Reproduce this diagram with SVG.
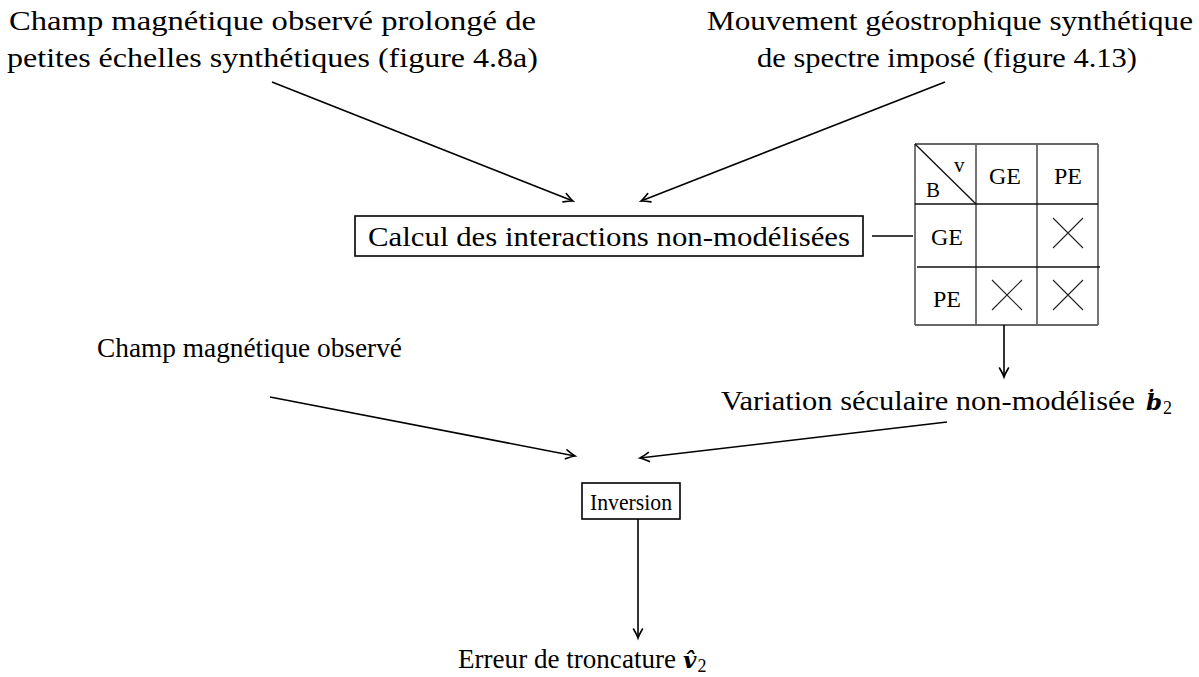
<svg xmlns="http://www.w3.org/2000/svg" width="1199" height="677" viewBox="0 0 1199 677">
<style>
text{font-family:"Liberation Serif","Times New Roman",serif;fill:#000}
.t{font-size:27px}
.tab{font-size:24px}
.sm{font-size:21px}
.m{font-family:"DejaVu Serif",serif;font-weight:bold;font-style:italic;font-size:23px}
.sub{font-size:18px}
.box{fill:none;stroke:#000;stroke-width:1.6}
.edge{fill:none;stroke:#000;stroke-width:1.6}
.grid{stroke:#666;stroke-width:1.8;fill:none}
.gridk{stroke:#111;stroke-width:1.4;fill:none}
.x{stroke:#222;stroke-width:1.1}
</style>
<defs>
<marker id="ah" markerUnits="userSpaceOnUse" markerWidth="20" markerHeight="20" viewBox="-12 -10 20 20" refX="0" refY="0" orient="auto">
<path d="M-9,-4.5 Q-3,-1 0,0 Q-3,1 -9,4.5" fill="none" stroke="#000" stroke-width="1.6" stroke-linecap="round"/>
</marker>
</defs>
<rect width="1199" height="677" fill="#fff"/>
<g id="src1">
<text class="t" x="9" y="30" textLength="527" lengthAdjust="spacingAndGlyphs">Champ magnétique observé prolongé de</text>
<text class="t" x="7" y="67" textLength="531" lengthAdjust="spacingAndGlyphs">petites échelles synthétiques (figure 4.8a)</text>
</g>
<g id="src2">
<text class="t" x="707" y="30" textLength="486" lengthAdjust="spacingAndGlyphs">Mouvement géostrophique synthétique</text>
<text class="t" x="757" y="67" textLength="380" lengthAdjust="spacingAndGlyphs">de spectre imposé (figure 4.13)</text>
</g>
<g id="calc">
<rect class="box" x="355" y="216" width="508" height="40"/>
<text class="t" x="368" y="246" textLength="482" lengthAdjust="spacingAndGlyphs">Calcul des interactions non-modélisées</text>
</g>
<g id="table">
<line class="grid" x1="915" y1="144" x2="1098" y2="144"/>
<line class="grid" x1="915" y1="325" x2="1098" y2="325"/>
<line class="grid" x1="915" y1="144" x2="915" y2="325"/>
<line class="grid" x1="976" y1="144" x2="976" y2="325"/>
<line class="grid" x1="1037" y1="144" x2="1037" y2="325"/>
<line class="grid" x1="1098" y1="144" x2="1098" y2="325"/>
<line class="gridk" x1="915" y1="204" x2="1098" y2="204"/>
<line class="gridk" x1="917" y1="267" x2="1100" y2="267"/>
<line class="gridk" x1="915" y1="144" x2="976" y2="204"/>
<text class="sm" x="926" y="197">B</text>
<text class="sm" x="954" y="172">v</text>
<text class="tab" x="989" y="184">GE</text>
<text class="tab" x="1054" y="184">PE</text>
<text class="tab" x="931" y="245">GE</text>
<text class="tab" x="933" y="307">PE</text>
<path class="x" d="M1053,218 L1083,248 M1083,218 L1053,248"/>
<path class="x" d="M992,280 L1022,310 M1022,280 L992,310"/>
<path class="x" d="M1053,280 L1083,310 M1083,280 L1053,310"/>
</g>
<g id="vs">
<text class="t" x="721" y="410" textLength="414" lengthAdjust="spacingAndGlyphs">Variation séculaire non-modélisée</text>
<text x="1146" y="410"><tspan class="m">ḃ</tspan><tspan class="sub" dx="1" dy="4">2</tspan></text>
</g>
<g id="obs">
<text class="t" x="97" y="357" textLength="305" lengthAdjust="spacingAndGlyphs">Champ magnétique observé</text>
</g>
<g id="inv">
<rect class="box" x="582" y="483" width="98" height="36"/>
<text x="590" y="510" textLength="82" lengthAdjust="spacingAndGlyphs" style="font-size:23px">Inversion</text>
</g>
<g id="err">
<text class="t" x="458" y="668" textLength="218" lengthAdjust="spacingAndGlyphs">Erreur de troncature</text>
<text x="683" y="668"><tspan class="m">v̂</tspan><tspan class="sub" dx="1" dy="4">2</tspan></text>
</g>
<g id="connectors">
<line class="edge" x1="272" y1="82" x2="573" y2="201" marker-end="url(#ah)"/>
<line class="edge" x1="945" y1="82" x2="641" y2="201" marker-end="url(#ah)"/>
<line class="edge" x1="872" y1="236" x2="913" y2="236"/>
<line class="edge" x1="1004" y1="325" x2="1004" y2="377" marker-end="url(#ah)"/>
<line class="edge" x1="270" y1="397" x2="575" y2="456" marker-end="url(#ah)"/>
<line class="edge" x1="947" y1="422" x2="640" y2="458" marker-end="url(#ah)"/>
<line class="edge" x1="638" y1="519" x2="638" y2="638" marker-end="url(#ah)"/>
</g>
</svg>
